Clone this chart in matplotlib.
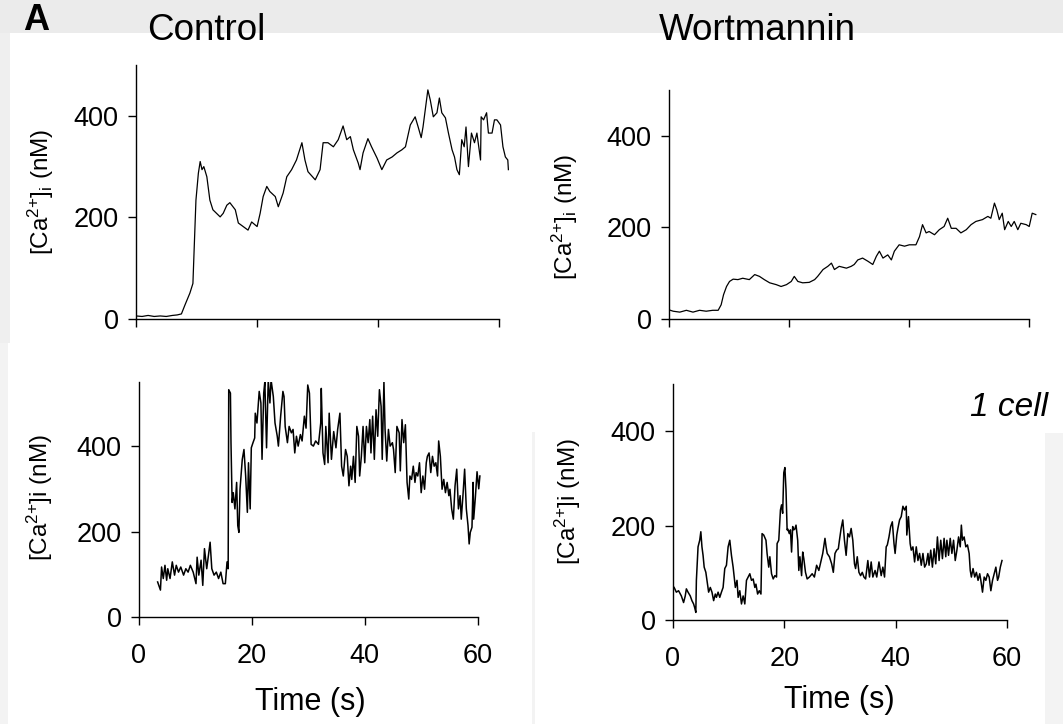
import matplotlib
matplotlib.use("Agg")
import matplotlib.pyplot as plt
from matplotlib.patches import Rectangle


# ======================================================
# 1. Data
# ======================================================

# Control, averaged trace (top left)
ctrl_avg_t = [0, 1, 2, 3, 4, 5, 6, 6.8, 7.5, 8.1,
              8.9, 9.4, 9.6, 9.9, 10.3, 10.6, 10.9, 11.2, 11.7, 12.2,
              12.7, 13.3, 13.9, 14.4, 15.0, 15.5, 16.4, 16.9, 17.7, 18.5,
              19.1, 20.0, 20.5, 21.0, 21.6, 22.1, 23.0, 23.5, 24.3, 24.9,
              25.7, 26.5, 27.4, 27.9, 28.4, 29.6, 30.4, 30.9, 31.7, 32.6,
              33.4, 34.2, 34.8, 35.4, 35.9, 36.7, 37.0, 37.5, 38.3, 38.9,
              39.8, 40.6, 41.4, 42.3, 43.1, 43.9, 44.5, 45.3, 46.1, 46.6,
              47.1, 47.4, 48.2, 48.6, 49.1, 49.7, 50.1, 50.5, 51.1, 51.6,
              52.2, 52.6, 53.0, 53.4, 53.8, 54.2, 54.5, 54.9, 55.4, 55.9,
              56.3, 56.9, 57.0, 57.4, 57.9, 58.2, 58.8, 59.2, 59.6, 60.2,
              60.6, 61.0, 61.4, 61.5]
ctrl_avg_ca = [6, 5, 7, 5, 6, 5, 7, 8, 10, 28,
               51, 70, 136, 234, 287, 310, 294, 300, 280, 234,
               215, 208, 201, 208, 224, 229, 215, 189, 182, 175,
               191, 182, 208, 241, 261, 251, 241, 221, 248, 280,
               294, 313, 347, 313, 290, 274, 294, 347, 347, 339,
               353, 380, 353, 359, 333, 307, 294, 327, 355, 339,
               317, 294, 313, 319, 327, 333, 339, 382, 398, 378,
               357, 378, 451, 431, 398, 406, 435, 406, 396, 366,
               333, 319, 294, 284, 353, 339, 378, 300, 366, 347,
               366, 313, 398, 392, 406, 366, 366, 392, 392, 382,
               339, 319, 313, 294]

# Wortmannin, averaged trace (top right)
wort_avg_t = [0, 0.7, 1.8, 2.9, 4.0, 5.1, 6.2, 7.3, 8.2, 8.7,
              9.1, 9.6, 10.1, 10.7, 11.5, 12.3, 13.4, 14.3, 15.1, 15.9,
              16.8, 17.9, 18.7, 19.6, 20.4, 20.9, 21.5, 22.3, 23.4, 24.3,
              24.8, 25.7, 26.5, 27.1, 27.6, 28.4, 29.6, 30.4, 30.9, 31.5,
              32.3, 33.2, 34.0, 34.6, 35.1, 35.7, 36.5, 37.1, 37.6, 38.4,
              39.3, 40.1, 41.2, 41.8, 42.3, 42.9, 43.4, 44.3, 45.1, 45.9,
              46.5, 47.1, 47.9, 48.7, 49.6, 50.4, 51.2, 52.3, 53.2, 53.7,
              54.3, 54.7, 55.1, 55.6, 56.0, 56.6, 57.1, 57.6, 58.2, 58.7,
              59.6, 60.1, 60.6, 61.2]
wort_avg_ca = [20, 17, 15, 19, 15, 19, 17, 19, 19, 31,
               53, 71, 82, 87, 86, 89, 86, 97, 93, 86,
               79, 75, 71, 75, 82, 93, 82, 79, 80, 86,
               93, 108, 115, 122, 108, 115, 111, 115, 119, 129,
               133, 126, 119, 137, 148, 133, 140, 129, 148, 162,
               159, 162, 162, 180, 206, 188, 191, 184, 195, 202,
               220, 198, 198, 188, 195, 206, 213, 217, 224, 220,
               253, 238, 217, 231, 195, 213, 202, 213, 195, 209,
               206, 202, 231, 228]

# Control, single cell (bottom left)
ctrl_cell_t = [3.3, 3.8, 4.0, 4.3, 4.6, 4.9, 5.1, 5.5, 5.9, 6.3,
               6.6, 7.0, 7.4, 7.9, 8.3, 8.7, 9.1, 9.6, 10.1, 10.3,
               10.6, 11.0, 11.3, 11.6, 12.0, 12.6, 12.9, 13.3, 13.7, 14.1,
               14.5, 14.9, 15.3, 15.6, 15.8, 15.9, 16.2, 16.3, 16.5, 16.7,
               17.0, 17.3, 17.5, 17.7, 17.9, 18.3, 18.6, 18.9, 19.2, 19.4,
               19.7, 19.9, 20.2, 20.5, 20.6, 20.9, 21.3, 21.6, 21.8, 22.1,
               22.3, 22.6, 22.9, 23.2, 23.4, 23.8, 24.1, 24.5, 24.7, 25.1,
               25.5, 25.7, 25.9, 26.3, 26.6, 27.0, 27.3, 27.6, 27.9, 28.2,
               28.6, 28.9, 29.3, 29.6, 29.9, 30.2, 30.5, 30.9, 31.3, 31.8,
               32.2, 32.3, 32.6, 32.9, 33.1, 33.5, 33.7, 34.1, 34.5, 34.9,
               35.2, 35.6, 35.9, 36.2, 36.6, 36.9, 37.2, 37.5, 37.7, 38.0,
               38.3, 38.6, 38.9, 39.1, 39.4, 39.7, 40.0, 40.3, 40.6, 40.9,
               41.1, 41.4, 41.7, 42.0, 42.3, 42.6, 42.9, 43.1, 43.4, 43.6,
               43.9, 44.2, 44.5, 44.9, 45.1, 45.4, 45.7, 46.1, 46.3, 46.6,
               46.9, 47.2, 47.5, 47.8, 48.0, 48.3, 48.6, 48.9, 49.1, 49.4,
               49.7, 50.0, 50.3, 50.6, 50.9, 51.1, 51.4, 51.7, 52.0, 52.3,
               52.6, 52.9, 53.1, 53.4, 53.7, 54.0, 54.3, 54.6, 54.9, 55.1,
               55.4, 55.7, 56.0, 56.3, 56.6, 56.9, 57.1, 57.4, 57.7, 58.0,
               58.3, 58.5, 58.7, 59.0, 59.2, 59.3, 59.6, 59.9, 60.2, 60.4]
ctrl_cell_ca = [82, 63, 117, 90, 121, 86, 113, 90, 129, 98,
                121, 105, 117, 98, 113, 105, 121, 105, 78, 140,
                98, 133, 74, 160, 113, 175, 113, 98, 105, 90,
                105, 78, 78, 129, 113, 532, 524, 408, 268, 291,
                253, 315, 214, 198, 299, 369, 392, 330, 245, 361,
                253, 396, 408, 419, 477, 454, 528, 501, 369, 524,
                551, 396, 555, 501, 555, 516, 454, 423, 400, 470,
                528, 516, 446, 408, 446, 431, 439, 384, 423, 400,
                427, 412, 470, 442, 543, 524, 404, 400, 412, 404,
                454, 535, 384, 357, 446, 361, 477, 369, 434, 396,
                439, 477, 353, 330, 392, 376, 307, 353, 322, 376,
                315, 446, 423, 330, 376, 446, 361, 446, 408, 462,
                384, 470, 369, 485, 423, 532, 493, 369, 551, 439,
                365, 439, 400, 408, 392, 338, 446, 431, 342, 462,
                408, 450, 315, 276, 330, 322, 353, 315, 338, 330,
                361, 291, 330, 299, 361, 376, 384, 338, 376, 353,
                361, 330, 412, 376, 299, 322, 291, 315, 284, 299,
                253, 229, 307, 346, 253, 284, 229, 284, 346, 253,
                214, 171, 198, 210, 315, 229, 280, 340, 300, 330]

# Wortmannin, single cell (bottom right)
wort_cell_t = [0.2, 0.6, 1.0, 1.5, 1.9, 2.2, 2.4, 2.7, 3.1, 3.4,
               3.7, 3.9, 4.1, 4.2, 4.5, 4.8, 5.0, 5.2, 5.4, 5.6,
               5.9, 6.1, 6.4, 6.7, 7.0, 7.3, 7.6, 7.8, 8.1, 8.4,
               8.7, 9.0, 9.3, 9.6, 9.9, 10.2, 10.5, 10.8, 11.0, 11.2,
               11.5, 11.7, 12.0, 12.3, 12.6, 12.9, 13.2, 13.5, 13.8, 14.1,
               14.4, 14.7, 14.9, 15.2, 15.5, 15.8, 16.0, 16.3, 16.7, 16.9,
               17.2, 17.4, 17.7, 18.0, 18.3, 18.6, 18.7, 19.0, 19.3, 19.5,
               19.7, 19.9, 20.1, 20.3, 20.5, 20.6, 20.9, 21.1, 21.3, 21.5,
               21.7, 21.9, 22.1, 22.4, 22.6, 22.8, 23.1, 23.3, 23.5, 23.8,
               24.1, 24.5, 25.0, 25.4, 25.8, 26.2, 26.6, 26.9, 27.3, 27.5,
               27.7, 28.1, 28.5, 28.8, 29.1, 29.4, 29.7, 29.9, 30.2, 30.5,
               30.8, 31.1, 31.4, 31.7, 32.0, 32.3, 32.6, 32.8, 33.1, 33.4,
               33.7, 34.0, 34.3, 34.6, 35.0, 35.3, 35.6, 35.9, 36.3, 36.6,
               37.0, 37.4, 37.7, 38.0, 38.3, 38.5, 38.8, 39.1, 39.4, 39.7,
               39.9, 40.2, 40.4, 40.7, 41.0, 41.3, 41.6, 41.9, 42.0, 42.3,
               42.6, 42.8, 43.1, 43.4, 43.7, 44.0, 44.3, 44.6, 44.9, 45.2,
               45.5, 45.8, 46.0, 46.3, 46.6, 46.9, 47.2, 47.5, 47.8, 48.1,
               48.4, 48.7, 49.0, 49.2, 49.5, 49.8, 50.1, 50.4, 50.7, 51.0,
               51.3, 51.6, 51.8, 52.0, 52.3, 52.6, 52.9, 53.2, 53.4, 53.6,
               53.9, 54.2, 54.5, 54.8, 55.1, 55.3, 55.6, 55.9, 56.2, 56.5,
               56.8, 57.1, 57.4, 57.7, 58.0, 58.3, 58.5, 58.8, 59.1]
wort_cell_ca = [69, 59, 62, 51, 37, 51, 66, 59, 51, 41,
                34, 26, 16, 84, 155, 169, 187, 155, 137, 112,
                101, 84, 59, 69, 59, 41, 55, 48, 59, 48,
                59, 69, 109, 116, 155, 169, 137, 112, 91, 69,
                84, 48, 62, 34, 51, 34, 84, 91, 98, 84,
                87, 69, 76, 55, 62, 55, 183, 180, 169, 141,
                112, 134, 98, 87, 94, 91, 162, 169, 233, 244,
                226, 312, 323, 276, 191, 193, 183, 191, 144, 198,
                191, 193, 201, 169, 105, 134, 94, 144, 130, 101,
                87, 91, 98, 91, 116, 105, 126, 141, 173, 155,
                141, 134, 119, 101, 141, 148, 151, 169, 194, 212,
                169, 137, 183, 176, 194, 169, 119, 109, 134, 101,
                94, 101, 91, 87, 126, 91, 123, 91, 105, 91,
                123, 94, 112, 91, 155, 159, 176, 198, 208, 162,
                141, 180, 194, 212, 219, 241, 233, 241, 180, 219,
                162, 148, 155, 123, 155, 126, 141, 116, 141, 112,
                119, 141, 116, 148, 112, 151, 119, 176, 126, 169,
                130, 173, 134, 169, 137, 173, 141, 169, 126, 148,
                176, 155, 201, 169, 176, 155, 159, 141, 105, 91,
                109, 91, 101, 84, 98, 84, 59, 91, 84, 98,
                91, 62, 84, 98, 112, 84, 91, 112, 126]

x_ticks = [0, 20, 40, 60]
y_ticks = [0, 200, 400]
label_avg = r'[Ca$\mathregular{^{2{+}}}$]$\mathregular{_i}$ (nM)'
label_cell = r'[Ca$\mathregular{^{2{+}}}$]i (nM)'


# ======================================================
# 2. Figure + background
# ======================================================

W, H = 1063, 724
plt.rcParams['font.family'] = ['Liberation Sans', 'DejaVu Sans']

fig = plt.figure(figsize=(W / 100, H / 100), dpi=100, facecolor='white')


def px_rect(x0, y0, x1, y1):
    # pixel box (top-left origin) -> figure fraction [l, b, w, h]
    return [x0 / W, 1 - y1 / H, (x1 - x0) / W, (y1 - y0) / H]


def gray_band(x0, y0, x1, y1, color):
    l, b, w, h = px_rect(x0, y0, x1, y1)
    fig.patches.append(Rectangle((l, b), w, h, transform=fig.transFigure,
                                 facecolor=color, edgecolor='none', zorder=0))


gray_band(0, 0, W, 33, '#ebebeb')
gray_band(0, 33, 10, 343, '#efefef')
gray_band(0, 343, 8, H, '#f3f3f3')
gray_band(532, 432, 535, H, '#f3f3f3')
gray_band(1045, 433, W, H, '#f3f3f3')


# ======================================================
# 3. Panels
# ======================================================

def trace_panel(rect, t, ca, xmax, ymax, lw, show_xlabels):
    ax = fig.add_axes(px_rect(*rect))
    ax.plot(t, ca, color='black', lw=lw)
    ax.set_xlim(0, xmax)
    ax.set_ylim(0, ymax)
    ax.set_facecolor('none')
    for side in ['top', 'right']:
        ax.spines[side].set_visible(False)
    for side in ['left', 'bottom']:
        ax.spines[side].set_linewidth(1.0)
    ax.spines['bottom'].set_bounds(0, 60)
    ax.set_xticks(x_ticks)
    ax.set_yticks(y_ticks)
    ax.tick_params(direction='out', length=5.5, width=1.0, labelsize=19.5)
    ax.tick_params(axis='y', pad=7)
    ax.tick_params(axis='x', pad=13, labelbottom=show_xlabels)
    return ax


# rects in pixels: x0, y0 (top), x1, y1 (x axis)
trace_panel((136, 65, 509, 319), ctrl_avg_t, ctrl_avg_ca, 61.6, 500, 0.9, False)
trace_panel((669, 90, 1037, 319), wort_avg_t, wort_avg_ca, 61.4, 500, 0.9, False)
trace_panel((139, 382, 481, 617), ctrl_cell_t, ctrl_cell_ca, 60.6, 550, 1.1, True)
trace_panel((673, 384, 1007, 620), wort_cell_t, wort_cell_ca, 60.0, 500, 1.1, True)


# ======================================================
# 4. Labels
# ======================================================

def fig_text(x, y, s, **kw):
    fig.text(x / W, 1 - y / H, s, **kw)


fig_text(36, 20, 'A', fontsize=26, fontweight='bold', ha='center', va='center')
fig_text(206, 31, 'Control', fontsize=26.5, ha='center', va='center')
fig_text(757, 31, 'Wortmannin', fontsize=26.5, ha='center', va='center')
fig_text(1048, 407, '1 cell', fontsize=24, style='italic', ha='right', va='center')

fig_text(41, 192, label_avg, fontsize=17.5, rotation=90, ha='center', va='center')
fig_text(565, 217, label_avg, fontsize=17.5, rotation=90, ha='center', va='center')
fig_text(40, 497, label_cell, fontsize=17.5, rotation=90, ha='center', va='center')
fig_text(568, 501, label_cell, fontsize=17.5, rotation=90, ha='center', va='center')

fig_text(310, 702, 'Time (s)', fontsize=22, ha='center', va='center')
fig_text(839, 700, 'Time (s)', fontsize=22, ha='center', va='center')

fig.savefig('out.png', dpi=100, facecolor=fig.get_facecolor())
